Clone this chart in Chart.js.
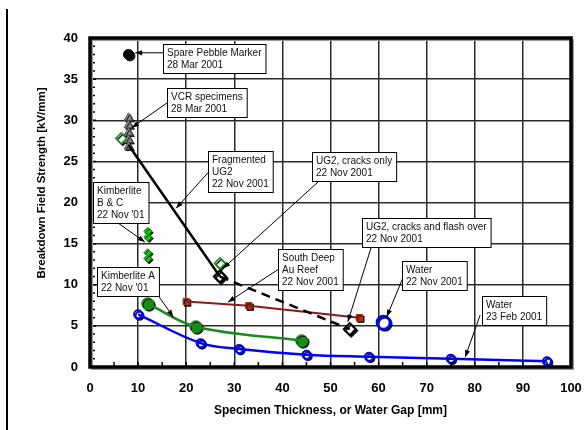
<!DOCTYPE html>
<html>
<head>
<meta charset="utf-8">
<script src="https://cdn.jsdelivr.net/npm/chart.js@4.4.1/dist/chart.umd.min.js"></script>
<style>
html,body{margin:0;padding:0;background:#fff;}
#wrap{width:584px;height:430px;position:relative;}
</style>
</head>
<body>
<div id="wrap"><canvas id="c" width="584" height="430"></canvas></div>
<script>
// ---- data ----
const spareX = [8], spareY = [38];
const vcrX = [8, 8, 8, 8, 8], vcrY = [30.3, 29.4, 28.5, 27.6, 26.8];
const ug2CracksX = [6.5, 27], ug2CracksY = [27.8, 12.6];
const fragX = [8, 27], fragY = [27, 11];
const flashX = [27, 54], flashY = [11, 4.6];
const kimbBCX = [12, 12, 12, 12], kimbBCY = [16.5, 15.8, 13.9, 13.2];
const kimbAX = [12, 22, 44], kimbAY = [7.7, 4.9, 3.2];
const southDeepX = [20, 33, 56], southDeepY = [7.95, 7.45, 6.0];
const waterNovX = [61], waterNovY = [5.4];
const waterFebX = [10, 23, 31, 45, 58, 75, 95], waterFebY = [6.4, 2.9, 2.2, 1.5, 1.25, 1.0, 0.7];
const xTicks = [0, 10, 20, 30, 40, 50, 60, 70, 80, 90, 100];
const yTicks = [0, 5, 10, 15, 20, 25, 30, 35, 40];
const xTitle = 'Specimen Thickness, or Water Gap [mm]';
const yTitle = 'Breakdown Field Strength [kV/mm]';

// annotations: text, box top-left (data coords), arrow start and tip (data coords)
const notes = [
  {lines: ['Spare Pebble Marker', '28 Mar 2001'], box: [15.2, 39.3], from: [15.2, 38.2], to: [9.4, 38.2]},
  {lines: ['VCR specimens', '28 Mar 2001'], box: [16.0, 33.9], from: [16.0, 32.1], to: [8.7, 29.1]},
  {lines: ['Fragmented', 'UG2', '22 Nov 2001'], box: [24.5, 26.3], from: [24.5, 23.6], to: [17.9, 19.3]},
  {lines: ['Kimberlite', 'B & C', "22 Nov '01"], box: [0.6, 22.5], from: [5.6, 17.6], to: [11.4, 15.2]},
  {lines: ['Kimberlite A', "22 Nov '01"], box: [1.5, 12.2], from: [14.1, 8.75], to: [17.3, 6.1]},
  {lines: ['UG2, cracks only', '22 Nov 2001'], box: [46.2, 26.1], from: [47.8, 22.7], to: [27.7, 12.0]},
  {lines: ['UG2, cracks and flash over', '22 Nov 2001'], box: [56.5, 18.1], from: [58.6, 14.8], to: [53.6, 5.5]},
  {lines: ['South Deep', 'Au Reef', '22 Nov 2001'], box: [39.1, 14.3], from: [39.5, 12.0], to: [28.7, 7.9]},
  {lines: ['Water', '22 Nov 2001'], box: [64.9, 12.9], from: [65.1, 10.9], to: [61.7, 6.1]},
  {lines: ['Water', '23 Feb 2001'], box: [81.5, 8.6], from: [81.1, 6.3], to: [78.0, 1.2]}
];

const pts = (xs, ys) => xs.map((x, i) => ({x: x, y: ys[i]}));
const FONT = 'Arial, "Liberation Sans", sans-serif';

const datasets = [
  // lines (no shadow)
  {data: pts(fragX, fragY), showLine: true, borderColor: '#000', borderWidth: 2.5, pointRadius: 0, tension: 0},
  {data: pts(flashX, flashY), showLine: true, borderColor: '#000', borderWidth: 2.5, borderDash: [9, 6], pointRadius: 0, tension: 0},
  {data: pts(southDeepX, southDeepY), showLine: true, borderColor: '#8b1a1a', borderWidth: 2, pointRadius: 0, tension: 0},
  {data: pts(kimbAX, kimbAY), showLine: true, borderColor: '#1a8a1a', borderWidth: 2.5, pointRadius: 0, tension: 0.35},
  {data: pts(waterFebX, waterFebY), showLine: true, borderColor: '#0000ff', borderWidth: 2.5, pointRadius: 0, tension: 0.35},
  // markers (with shadow)
  {shadow: true, data: pts(spareX, spareY), pointStyle: 'circle', pointRadius: 5, backgroundColor: '#000', borderColor: '#000'},
  {shadow: true, data: pts(vcrX, vcrY), pointStyle: 'triangle', pointRadius: 5, backgroundColor: '#8a8a8a', borderColor: '#555', borderWidth: 1},
  {shadow: true, data: pts(ug2CracksX, ug2CracksY), pointStyle: 'rectRot', pointRadius: 5.5, backgroundColor: '#fff', borderColor: '#139a13', borderWidth: 1.5},
  {shadow: true, data: pts(flashX, flashY), pointStyle: 'rectRot', pointRadius: 6, backgroundColor: '#fff', borderColor: '#000', borderWidth: 2},
  {shadow: true, data: pts(kimbBCX, kimbBCY), pointStyle: 'rectRot', pointRadius: 4, backgroundColor: '#11cc11', borderColor: '#0a9a0a', borderWidth: 1},
  {shadow: true, data: pts(southDeepX, southDeepY), pointStyle: 'rect', pointRadius: 4.5, backgroundColor: '#a8391a', borderColor: '#a8391a', borderWidth: 1},
  {shadow: true, data: pts(kimbAX, kimbAY), pointStyle: 'circle', pointRadius: 6, backgroundColor: '#1a8a1a', borderColor: '#1a8a1a', borderWidth: 1},
  {shadow: true, data: pts(waterFebX, waterFebY), pointStyle: 'circle', pointRadius: 4, backgroundColor: '#fff', borderColor: '#0000ff', borderWidth: 2},
  {shadow: true, data: pts(waterNovX, waterNovY), pointStyle: 'circle', pointRadius: 6.5, backgroundColor: '#fff', borderColor: '#0000ff', borderWidth: 2.5}
];

const shadowPlugin = {
  id: 'shadow',
  beforeDatasetDraw(chart, args) {
    const ds = chart.data.datasets[args.index];
    if (ds.shadow) {
      const ctx = chart.ctx;
      ctx.save();
      ctx.shadowColor = 'rgba(0,0,0,0.85)';
      ctx.shadowOffsetX = 1.5;
      ctx.shadowOffsetY = 1.5;
      ctx.shadowBlur = 0;
      ds._pushed = true;
    }
  },
  afterDatasetDraw(chart, args) {
    const ds = chart.data.datasets[args.index];
    if (ds._pushed) { chart.ctx.restore(); ds._pushed = false; }
  }
};

const decoPlugin = {
  id: 'deco',
  afterDraw(chart) {
    const ctx = chart.ctx, a = chart.chartArea;
    const xs = chart.scales.x, ys = chart.scales.y;
    ctx.save();
    // minor ticks
    ctx.strokeStyle = '#000';
    ctx.lineWidth = 1.5;
    ctx.beginPath();
    for (let v = 1; v < 40; v++) {
      const py = ys.getPixelForValue(v);
      ctx.moveTo(a.left, py); ctx.lineTo(a.left + (v % 5 === 0 ? 6 : 5), py);
    }
    for (let v = 5; v < 100; v += 5) {
      const px = xs.getPixelForValue(v);
      ctx.moveTo(px, a.bottom); ctx.lineTo(px, a.bottom - 5);
    }
    ctx.stroke();
    // frame with soft shadow
    ctx.strokeStyle = '#9a9a9a';
    ctx.lineWidth = 2;
    ctx.strokeRect(a.left + 2, a.top + 2, a.right - a.left, a.bottom - a.top);
    ctx.strokeStyle = '#000';
    ctx.lineWidth = 3.5;
    ctx.strokeRect(a.left, a.top, a.right - a.left, a.bottom - a.top);
    // page margin line
    ctx.fillStyle = '#000';
    ctx.fillRect(6, 9, 2, 421);
    // y title
    ctx.save();
    ctx.translate(42, 183);
    ctx.rotate(-Math.PI / 2);
    ctx.font = 'bold 11.5px ' + FONT;
    ctx.fillStyle = '#000';
    ctx.textAlign = 'center';
    ctx.textBaseline = 'middle';
    ctx.fillText(yTitle, 0, 0);
    ctx.restore();
    // annotations
    ctx.font = '10px ' + FONT;
    ctx.lineWidth = 1;
    notes.forEach(n => {
      const fx = xs.getPixelForValue(n.from[0]), fy = ys.getPixelForValue(n.from[1]);
      const tx = xs.getPixelForValue(n.to[0]), ty = ys.getPixelForValue(n.to[1]);
      ctx.strokeStyle = '#000';
      ctx.beginPath(); ctx.moveTo(fx, fy); ctx.lineTo(tx, ty); ctx.stroke();
      const ang = Math.atan2(ty - fy, tx - fx);
      const L = 7, W = 2.6;
      ctx.fillStyle = '#000';
      ctx.beginPath();
      ctx.moveTo(tx, ty);
      ctx.lineTo(tx - L * Math.cos(ang) + W * Math.sin(ang), ty - L * Math.sin(ang) - W * Math.cos(ang));
      ctx.lineTo(tx - L * Math.cos(ang) - W * Math.sin(ang), ty - L * Math.sin(ang) + W * Math.cos(ang));
      ctx.closePath(); ctx.fill();
    });
    notes.forEach(n => {
      const bx = Math.round(xs.getPixelForValue(n.box[0])) + 0.5;
      const by = Math.round(ys.getPixelForValue(n.box[1])) + 0.5;
      const w = Math.max(...n.lines.map(t => ctx.measureText(t).width)) + 8;
      const h = n.lines.length * 12 + 5;
      ctx.fillStyle = '#fff';
      ctx.fillRect(bx, by, w, h);
      ctx.strokeStyle = '#000';
      ctx.strokeRect(bx, by, w, h);
      ctx.fillStyle = '#111';
      ctx.textAlign = 'left';
      ctx.textBaseline = 'alphabetic';
      n.lines.forEach((t, i) => ctx.fillText(t, bx + 3.5, by + 11 + i * 12));
    });
    ctx.restore();
  }
};

new Chart(document.getElementById('c'), {
  type: 'scatter',
  data: {datasets: datasets},
  options: {
    responsive: false,
    animation: false,
    devicePixelRatio: 1,
    layout: {padding: {top: 38, right: 0, left: 0, bottom: 0}},
    plugins: {legend: {display: false}, tooltip: {enabled: false}},
    scales: {
      x: {
        type: 'linear', min: 0, max: 100,
        afterFit(s) { s.height = 63; s.paddingRight = 13; },
        afterBuildTicks(s) { s.ticks = xTicks.map(v => ({value: v})); },
        grid: {color: '#2a2a2a', lineWidth: 1.5, drawTicks: false},
        border: {display: false},
        ticks: {padding: 14, color: '#000', font: {family: FONT, size: 13, weight: 'bold'}, maxRotation: 0},
        title: {display: true, text: xTitle, color: '#000', font: {family: FONT, size: 12, weight: 'bold'}, padding: {top: 0, bottom: 12}}
      },
      y: {
        type: 'linear', min: 0, max: 40,
        afterFit(s) { s.width = 90; },
        afterBuildTicks(s) { s.ticks = yTicks.map(v => ({value: v})); },
        grid: {color: '#2a2a2a', lineWidth: 1.5, drawTicks: false},
        border: {display: false},
        ticks: {padding: 12, color: '#000', font: {family: FONT, size: 13, weight: 'bold'}}
      }
    }
  },
  plugins: [shadowPlugin, decoPlugin]
});
</script>
</body>
</html>
